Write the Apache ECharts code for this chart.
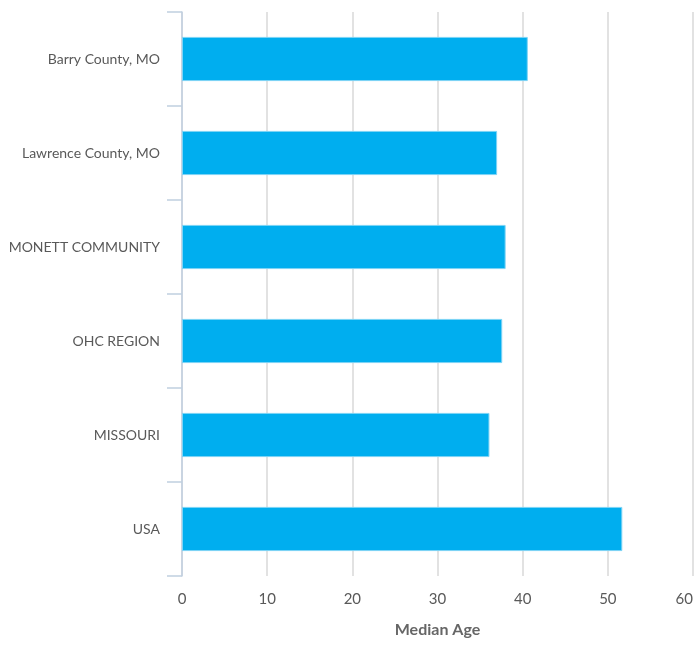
<!DOCTYPE html>
<html><head><meta charset="utf-8">
<script src="https://cdn.jsdelivr.net/npm/echarts@6/dist/echarts.min.js"></script>
<style>html,body{margin:0;padding:0;background:#fff}#c{width:695px;height:645px}</style>
</head><body><div id="c"></div>
<script>
const categories = ["Barry County, MO", "Lawrence County, MO", "MONETT COMMUNITY", "OHC REGION", "MISSOURI", "USA"];
const medianAge = [40.6, 37.0, 38.0, 37.6, 36.1, 51.7];
const xTicks = [0, 10, 20, 30, 40, 50, 60];
const axisTitle = "Median Age";

const chart = echarts.init(document.getElementById('c'), null, {renderer: 'canvas'});
chart.setOption({
  animation: false,
  backgroundColor: '#fff',
  grid: {left: 182, right: 2, top: 12, bottom: 69, containLabel: false, outerBoundsMode: 'none'},
  xAxis: {
    type: 'value', min: xTicks[0], max: xTicks[xTicks.length - 1], interval: 10,
    name: axisTitle, nameLocation: 'middle', nameGap: 46,
    nameTextStyle: {fontFamily: 'Lato', fontSize: 16, fontWeight: 'bold', color: '#666'},
    axisLine: {show: false}, axisTick: {show: false},
    axisLabel: {fontFamily: 'Lato', fontSize: 15, color: '#595959', margin: 16, alignMaxLabel: 'right'},
    splitLine: {show: true, lineStyle: {color: '#d9d9d9', width: 1.5}}
  },
  yAxis: {
    type: 'category', data: categories, inverse: true,
    axisLine: {show: true, lineStyle: {color: '#c0cfe0', width: 1.5}},
    axisTick: {show: true, length: 15, lineStyle: {color: '#c0cfe0', width: 1.5}},
    axisLabel: {fontFamily: 'Lato', fontSize: 14, color: '#595959', margin: 22},
    splitLine: {show: false}
  },
  series: [{
    type: 'bar', data: medianAge, barCategoryGap: '53%',
    itemStyle: {color: '#00aeef', borderColor: '#7dd3f5', borderWidth: 1}
  }]
});
</script></body></html>
